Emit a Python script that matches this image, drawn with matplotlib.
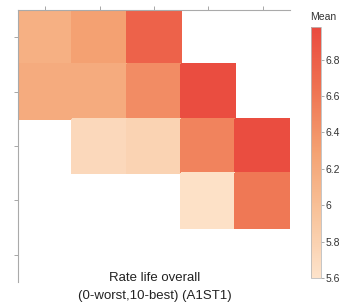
import numpy as np
import matplotlib
matplotlib.use('AGG')
import matplotlib.pyplot as plt
from matplotlib.colors import LinearSegmentedColormap, Normalize

plt.rcParams['font.family'] = ['Liberation Sans', 'DejaVu Sans']

# Mean values per cell (rows top to bottom, columns left to right), nan = no data
row0 = [6.15, 6.30, 6.78, np.nan, np.nan]
row1 = [6.20, 6.20, 6.45, 6.95, np.nan]
row2 = [np.nan, 5.72, 5.78, 6.52, 6.95]
row3 = [np.nan, np.nan, np.nan, 5.63, 6.60]
row4 = [np.nan, np.nan, np.nan, np.nan, np.nan]
cbar_ticks = [5.6, 5.8, 6.0, 6.2, 6.4, 6.6, 6.8]
cbar_labels = ['5.6', '5.8', '6', '6.2', '6.4', '6.6', '6.8']

values = np.ma.masked_invalid(np.array([row0, row1, row2, row3, row4]))

cmap = LinearSegmentedColormap.from_list(
    'peach_red', ['#fde3cb', '#f8c49c', '#f4a273', '#ef7352', '#ea4a3f'])
norm = Normalize(vmin=5.6, vmax=6.98)

fig = plt.figure(figsize=(3.43, 3.05), dpi=100)
ax = fig.add_axes([0.0525, 0.0754, 0.7925, 0.8918])

ax.pcolormesh(np.arange(6), np.arange(6), values, cmap=cmap, norm=norm,
              edgecolors='face', linewidth=0.3)
ax.set_xlim(0, 5)
ax.set_ylim(5, 0)
ax.xaxis.tick_top()
ax.set_xticks(np.arange(5) + 0.5)
ax.set_yticks(np.arange(5) + 0.5)
ax.set_xticklabels([])
ax.set_yticklabels([])
ax.tick_params(length=3, width=0.6, color='#999999')
for side in ['right', 'bottom']:
    ax.spines[side].set_visible(False)
for side in ['left', 'top']:
    ax.spines[side].set_color('#aaaaaa')
    ax.spines[side].set_linewidth(0.8)

fig.text(0.452, 0.088, 'Rate life overall', ha='center', va='center',
         fontsize=9.5, color='#222222')
fig.text(0.452, 0.028, '(0-worst,10-best) (A1ST1)', ha='center', va='center',
         fontsize=9.5, color='#222222')

cax = fig.add_axes([0.906, 0.0885, 0.029, 0.823])
sm = plt.cm.ScalarMappable(cmap=cmap, norm=norm)
cb = fig.colorbar(sm, cax=cax)
cb.set_ticks(cbar_ticks)
cb.set_ticklabels(cbar_labels)
cb.outline.set_edgecolor('#bbbbbb')
cb.outline.set_linewidth(0.6)
cax.tick_params(length=2, width=0.5, color='#888888', labelsize=7.5,
                pad=1.5, labelcolor='#333333')
cax.text(-0.05, 1.02, 'Mean', transform=cax.transAxes, ha='left', va='bottom',
         fontsize=7.5, color='#333333')

fig.savefig('out.png', dpi=100)
